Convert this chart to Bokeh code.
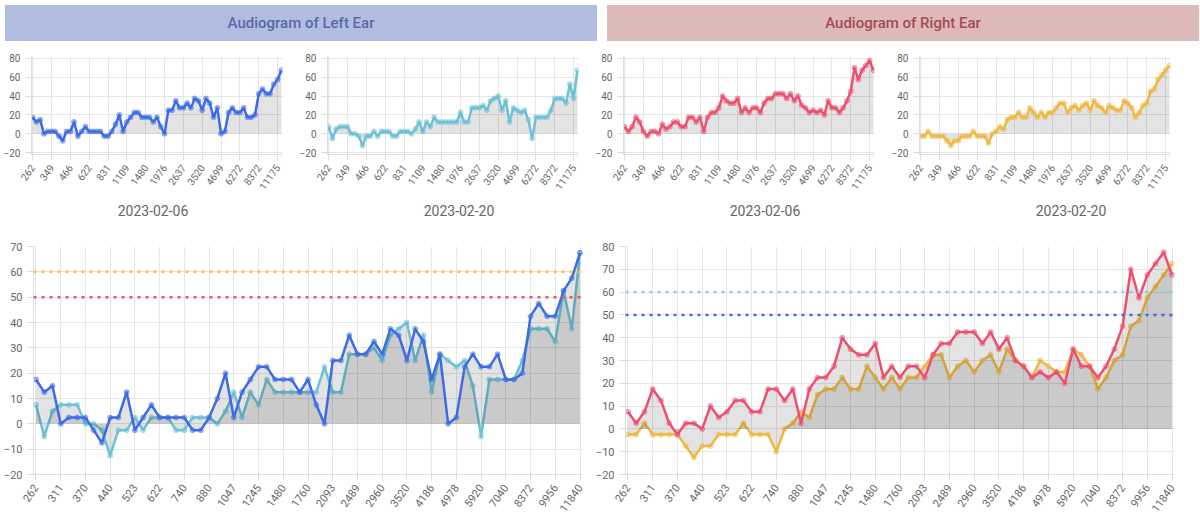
from math import pi
from bokeh.plotting import figure
from bokeh.layouts import column, row
from bokeh.models import Div, Range1d, FixedTicker, Span
from bokeh.embed import file_html
from bokeh.resources import INLINE

# semitone frequencies 262 .. 11840 Hz (67 points)
freqs = [262, 277, 294, 311, 330, 349, 370, 392, 415, 440, 466, 494, 523, 554, 587, 622, 659, 698,
         740, 784, 831, 880, 932, 988, 1047, 1109, 1175, 1245, 1319, 1397, 1480, 1568, 1661, 1760,
         1865, 1976, 2093, 2217, 2349, 2489, 2637, 2794, 2960, 3136, 3322, 3520, 3729, 3951, 4186,
         4435, 4699, 4978, 5274, 5588, 5920, 6272, 6645, 7040, 7459, 7902, 8372, 8870, 9397, 9956,
         10548, 11175, 11840]

left_0206 = [17.5, 12.5, 15, 0, 2.5, 2.5, 2.5, -2.5, -7.5, 2.5, 2.5, 12.5, -2.5, 2.5, 7.5, 2.5, 2.5,
             2.5, 2.5, -2.5, -2.5, 2.5, 10, 20, 2.5, 12.5, 17.5, 22.5, 22.5, 17.5, 17.5, 17.5, 12.5,
             17.5, 7.5, 0, 25, 25, 35, 27.5, 27.5, 32.5, 27.5, 37.5, 35, 25, 37.5, 32.5, 17.5, 27.5,
             0, 2.5, 22.5, 27.5, 22.5, 22.5, 27.5, 17.5, 17.5, 20, 42.5, 47.5, 42.5, 42.5, 52.5,
             57.5, 67.5]
left_0220 = [7.5, -5, 5, 7.5, 7.5, 7.5, 0, 0, -2.5, -12.5, -2.5, -2.5, 2.5, -2.5, 2.5, 2.5, 2.5,
             -2.5, -2.5, 2.5, 2.5, 2.5, 0, 5, 12.5, 2.5, 12.5, 7.5, 17.5, 12.5, 12.5, 12.5, 12.5,
             12.5, 12.5, 22.5, 12.5, 12.5, 27.5, 27.5, 27.5, 30, 25, 35, 37.5, 40, 25, 35, 12.5,
             27.5, 25, 22.5, 25, 15, -5, 17.5, 17.5, 17.5, 17.5, 25, 37.5, 37.5, 37.5, 32.5, 52.5,
             37.5, 67.5]
right_0206 = [7.5, 2.5, 7.5, 17.5, 12.5, 2.5, -2.5, 2.5, 2.5, 0, 10, 5, 7.5, 12.5, 12.5, 7.5, 7.5,
              17.5, 17.5, 12.5, 17.5, 2.5, 17.5, 22.5, 22.5, 27.5, 40, 35, 32.5, 32.5, 37.5, 22.5,
              27.5, 22.5, 27.5, 27.5, 22.5, 32.5, 37.5, 37.5, 42.5, 42.5, 42.5, 37.5, 42.5, 35, 40,
              30, 27.5, 22.5, 25, 22.5, 25, 20, 35, 27.5, 27.5, 22.5, 27.5, 35, 45, 70, 57.5, 67.5,
              72.5, 77.5, 67.5]
right_0220 = [-2.5, -2.5, 2.5, -2.5, -2.5, -2.5, -2.5, -7.5, -12.5, -7.5, -7.5, -2.5, -2.5, -2.5,
              2.5, -2.5, -2.5, -2.5, -10, 0, 2.5, 7.5, 5, 15, 17.5, 17.5, 22.5, 17.5, 17.5, 27.5,
              22.5, 17.5, 22.5, 17.5, 22.5, 22.5, 27.5, 32.5, 32.5, 22.5, 27.5, 30, 25, 30, 32.5,
              25, 35, 30, 27.5, 22.5, 30, 27.5, 25, 25, 35, 32.5, 27.5, 17.5, 22.5, 30, 32.5, 45,
              47.5, 57.5, 62.5, 67.5, 72.5]

dates = ["2023-02-06", "2023-02-20"]

BLUE, CYAN, RED, YELLOW = "#3d6be6", "#6cc1d6", "#ee4f6e", "#efb840"
FONT = "Roboto"
xs = list(range(len(freqs)))


def style(p, ticks, ystep):
    p.x_range = Range1d(-0.3, len(freqs) - 0.7)
    p.xaxis.ticker = FixedTicker(ticks=ticks)
    p.xaxis.major_label_overrides = {i: str(freqs[i]) for i in ticks}
    p.xaxis.major_label_orientation = 0.95
    p.yaxis.ticker = FixedTicker(ticks=list(range(-20, 90, ystep)))
    for ax in (p.xaxis, p.yaxis):
        ax.axis_line_color = "#dddddd"
        ax.major_tick_line_color = "#dddddd"
        ax.minor_tick_line_color = None
        ax.major_label_text_color = "#666666"
        ax.major_label_text_font = FONT
        ax.major_label_text_font_size = "11px"
    p.grid.grid_line_color = "#e6e6e6"
    p.outline_line_color = None


def series(p, ys, color, lw, size):
    p.varea(x=xs, y1=[0] * len(ys), y2=ys, fill_color="black", fill_alpha=0.11)
    p.line(xs, ys, line_color=color, line_width=lw, line_join="round")
    p.scatter(xs, ys, size=size, line_color=color, fill_color=color, fill_alpha=0.4, line_alpha=0.5)


def small(ys, color):
    p = figure(width=296, height=150, output_backend="svg", toolbar_location=None,
               y_range=Range1d(-22, 82), min_border_left=30, min_border_right=14,
               min_border_top=10)
    style(p, list(range(0, 67, 5)), 20)
    p.yaxis.major_label_text_font_size = "10px"
    p.xaxis.major_label_text_font_size = "10px"
    series(p, ys, color, 2.5, 5)
    return p


def big(a, b, ca, cb, ymax, c60, c50):
    p = figure(width=592, height=280, output_backend="svg", toolbar_location=None,
               y_range=Range1d(-20, ymax), min_border_left=30, min_border_right=10,
               min_border_top=8)
    style(p, list(range(0, 67, 3)), 10)
    p.add_layout(Span(location=60, dimension="width", line_color=c60, line_width=2.5, line_dash="3 5"))
    p.add_layout(Span(location=50, dimension="width", line_color=c50, line_width=2.5, line_dash="3 5"))
    series(p, b, cb, 2.5, 5)
    series(p, a, ca, 2.5, 5)
    return p


def header(text, bg, fg):
    return Div(text=text, width=592, height=36, styles={
        "background-color": bg, "color": fg, "text-align": "center", "line-height": "36px",
        "font-family": FONT, "font-size": "15px", "font-weight": "500", "width": "592px"})


def date_div(text):
    return Div(text=text, width=296, height=32, styles={
        "text-align": "center", "color": "#666666", "font-family": FONT, "font-size": "14px",
        "width": "296px", "line-height": "20px"})


layout = column(
    row(header("Audiogram of Left Ear", "#b1bde0", "#5b68a6"),
        header("Audiogram of Right Ear", "#deb9b9", "#a34c52")),
    row(small(left_0206, BLUE), small(left_0220, CYAN),
        small(right_0206, RED), small(right_0220, YELLOW)),
    row(date_div(dates[0]), date_div(dates[1]), date_div(dates[0]), date_div(dates[1])),
    row(big(left_0206, left_0220, BLUE, CYAN, 70, "#f5c242", "#f0506e"),
        big(right_0206, right_0220, RED, YELLOW, 80, "#8ccfe8", "#3b6ee8")),
)

open("out.html", "w").write(file_html(layout, INLINE))
